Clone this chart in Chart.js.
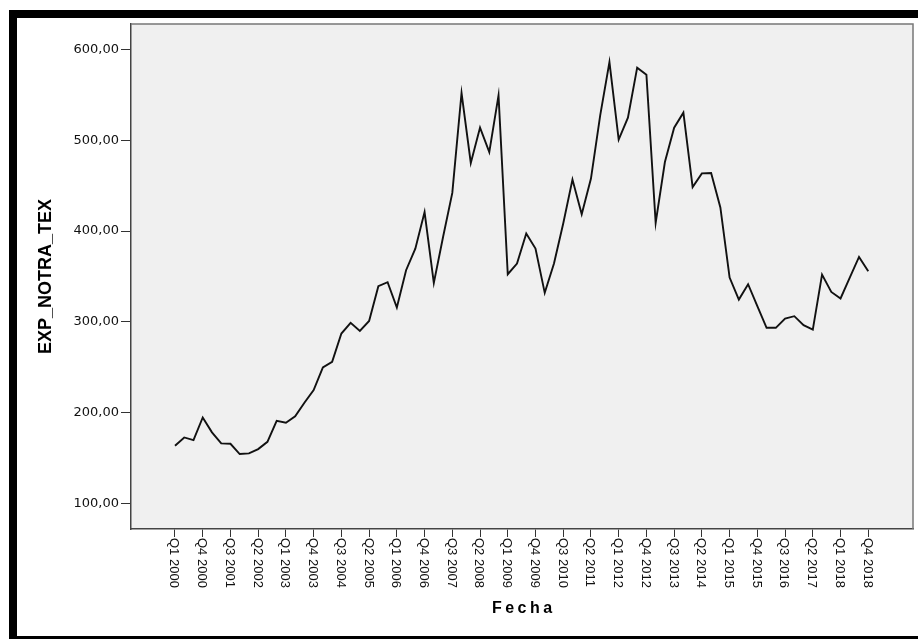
<!DOCTYPE html>
<html>
<head>
<meta charset="utf-8">
<script src="https://cdn.jsdelivr.net/npm/chart.js@4.4.1/dist/chart.umd.min.js"></script>
<style>
  html, body { margin: 0; padding: 0; background: #fff; overflow: hidden; }
  #frame {
    position: absolute; left: 9px; top: 10px; width: 1000px; height: 634px;
    box-sizing: border-box; border: 8px solid #000;
  }
  #stockChart { position: absolute; left: 0; top: 0; }
</style>
</head>
<body>
<div id="frame"></div>
<canvas id="stockChart" width="918" height="639"></canvas>
<script>
// quarterly values, Q1 2000 .. Q4 2018
const expValues = [
    163.6, 172.8, 169.9, 194.8, 178.4, 166.2, 165.8, 154.5, 155.2, 160,
    168, 191, 189, 196, 211, 225, 250, 256, 287.2, 299,
    290, 301, 339.3, 343.7, 315.8, 356.9, 380.7, 421, 343, 393.5,
    442, 552, 475, 513.9, 487, 549.4, 352.5, 364.3, 397.3, 380.7,
    332, 364.3, 408.3, 456.7, 418.5, 457.8, 527.4, 586, 500.7, 524.9,
    579.9, 572.2, 409, 476, 513.9, 530.4, 448.5, 463.5, 463.9, 426,
    348.8, 324.6, 341.5, 317.3, 293.5, 293.5, 303.7, 306.3, 296.4, 291.6,
    352.1, 333, 325.8, 348.8, 371.5, 355.7
];
// every third quarter gets a label
const xTickIndex = [0, 3, 6, 9, 12, 15, 18, 21, 24, 27, 30, 33, 36, 39, 42, 45, 48, 51, 54, 57, 60, 63, 66, 69, 72, 75];
const xTickLabels = [
    'Q1 2000', 'Q4 2000', 'Q3 2001', 'Q2 2002', 'Q1 2003', 'Q4 2003', 'Q3 2004', 'Q2 2005', 'Q1 2006',
    'Q4 2006', 'Q3 2007', 'Q2 2008', 'Q1 2009', 'Q4 2009', 'Q3 2010', 'Q2 2011', 'Q1 2012', 'Q4 2012',
    'Q3 2013', 'Q2 2014', 'Q1 2015', 'Q4 2015', 'Q3 2016', 'Q2 2017', 'Q1 2018', 'Q4 2018'
];
const yTicks = [100, 200, 300, 400, 500, 600];

const yTitle = 'EXP_NOTRA_TEX';
const xTitle = 'Fecha';

const spssLook = {
    id: 'spssLook',
    beforeDraw(chart) {
        const { ctx, chartArea: a } = chart;
        ctx.save();
        ctx.fillStyle = '#f0f0f0';
        ctx.fillRect(a.left, a.top, a.right - a.left, a.bottom - a.top);
        ctx.restore();
    },
    afterDraw(chart) {
        const { ctx, chartArea: a } = chart;
        const xs = chart.scales.x;
        ctx.save();
        // top / right frame
        ctx.strokeStyle = '#777';
        ctx.lineWidth = 1.5;
        ctx.beginPath();
        ctx.moveTo(a.left, a.top);
        ctx.lineTo(a.right, a.top);
        ctx.lineTo(a.right, a.bottom);
        ctx.stroke();

        // vertical tick labels, reading downwards
        ctx.fillStyle = '#111';
        ctx.font = '13px "Liberation Sans", Arial, sans-serif';
        ctx.textAlign = 'left';
        ctx.textBaseline = 'middle';
        xTickIndex.forEach((idx, k) => {
            const px = xs.getPixelForValue(idx);
            ctx.save();
            ctx.translate(px - 1, a.bottom + 9);
            ctx.rotate(Math.PI / 2);
            ctx.fillText(xTickLabels[k], 0, 0);
            ctx.restore();
        });

        // axis titles
        ctx.fillStyle = '#000';
        ctx.font = 'bold 18px "Liberation Sans", Arial, sans-serif';
        ctx.textAlign = 'center';
        ctx.save();
        ctx.translate(46, (a.top + a.bottom) / 2);
        ctx.rotate(-Math.PI / 2);
        ctx.fillText(yTitle, 0, 0);
        ctx.restore();

        ctx.font = 'bold 16px "Liberation Sans", Arial, sans-serif';
        ctx.letterSpacing = '3.5px';
        ctx.fillText(xTitle, (a.left + a.right) / 2 + 1.75, 609);
        ctx.restore();
    }
};

const ctx = document.getElementById('stockChart');
new Chart(ctx, {
    type: 'line',
    data: {
        datasets: [{
            label: yTitle,
            data: expValues.map((v, i) => ({ x: i, y: v })),
            borderColor: '#111',
            borderWidth: 1.9,
            pointRadius: 0,
            tension: 0,
            fill: false
        }]
    },
    options: {
        responsive: false,
        animation: false,
        layout: { padding: { left: 0, top: 24, right: 5, bottom: 0 } },
        plugins: { legend: { display: false }, tooltip: { enabled: false } },
        scales: {
            x: {
                type: 'linear',
                min: -4.76,
                max: 79.84,
                afterBuildTicks: s => { s.ticks = xTickIndex.map(v => ({ value: v })); },
                afterFit: s => { s.height = 110; },
                ticks: { display: false },
                grid: { drawOnChartArea: false, drawTicks: true, tickLength: 8, color: '#333', lineWidth: 1 },
                border: { display: true, color: '#444', width: 1.5 }
            },
            y: {
                type: 'linear',
                min: 72,
                max: 628,
                afterBuildTicks: s => { s.ticks = yTicks.map(v => ({ value: v })); },
                afterFit: s => { s.width = 131; },
                ticks: {
                    padding: 2,
                    color: '#111',
                    font: { family: '"DejaVu Sans", sans-serif', size: 13 },
                    callback: v => v.toFixed(2).replace('.', ',')
                },
                grid: { drawOnChartArea: false, drawTicks: true, tickLength: 10, color: '#333', lineWidth: 1 },
                border: { display: true, color: '#444', width: 1.5 }
            }
        }
    },
    plugins: [spssLook]
});
</script>
</body>
</html>
